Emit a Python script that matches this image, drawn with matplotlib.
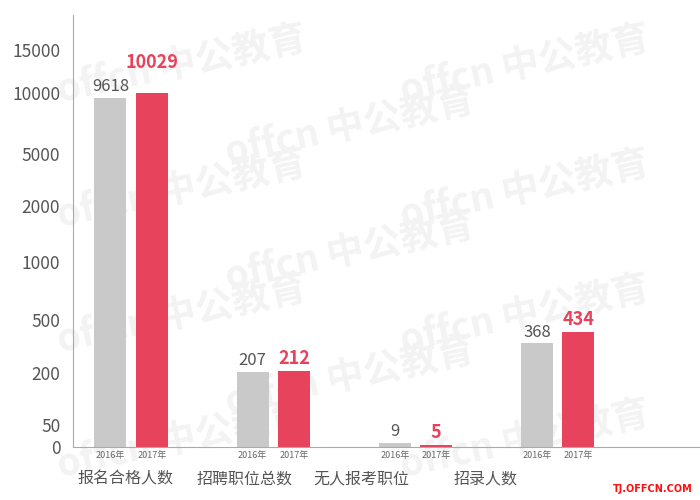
import numpy as np
import matplotlib
matplotlib.use('Agg')
import matplotlib.pyplot as plt

plt.rcParams['font.family'] = ['Noto Sans CJK SC', 'DejaVu Sans']

categories = ['报名合格人数', '招聘职位总数', '无人报考职位', '招录人数']
years = ['2016年', '2017年']
values_2016 = [9618, 207, 9, 368]
values_2017 = [10029, 212, 5, 434]
yticks = [0, 50, 200, 500, 1000, 2000, 5000, 10000, 15000]

GRAY = '#c9c9c9'
RED = '#e8435d'
TXT = '#555555'

# the y axis of the original is not linear: piecewise map tick value -> height
knot_v = [0, 50, 200, 500, 1000, 2000, 5000, 10000, 15000, 20000]
knot_u = [0, 22, 74, 127, 185, 241, 293, 354, 397, 440]


def fwd(v):
    return np.interp(v, knot_v, knot_u)


def inv(u):
    return np.interp(u, knot_u, knot_v)


def watermark(fig):
    # faint "offcn 中公教育" tiles behind the chart, kept inside the frame
    for row in range(7):
        y = 0.87 - row * 0.125
        xs = [0.26, 0.75] if row % 2 == 0 else [0.50]
        for x in xs:
            fig.text(x, y, 'offcn 中公教育', fontsize=27, fontweight='bold',
                     color='#f3f3f3', rotation=12, rotation_mode='anchor',
                     ha='center', va='center', zorder=0)


def main():
    fig = plt.figure(figsize=(7, 5), dpi=100)
    watermark(fig)
    ax = fig.add_axes([0.104, 0.106, 0.896, 0.864])
    ax.set_zorder(1)
    ax.set_facecolor('none')
    ax.set_yscale('function', functions=(fwd, inv))

    x = np.arange(len(categories))
    off, w = 0.145, 0.225
    b16 = ax.bar(x - off, values_2016, w, color=GRAY, zorder=2)
    b17 = ax.bar(x + off, values_2017, w, color=RED, zorder=2)

    t16, t17 = [], []
    for rect, v in zip(b16, values_2016):
        t16.append(ax.annotate(str(v), (rect.get_x() + rect.get_width() / 2, v),
                               xytext=(0, 2), textcoords='offset points',
                               ha='center', va='bottom', fontsize=12,
                               color=TXT))
    for rect, v in zip(b17, values_2017):
        t17.append(ax.annotate(str(v), (rect.get_x() + rect.get_width() / 2, v),
                               xytext=(0, 2), textcoords='offset points',
                               ha='center', va='bottom', fontsize=13,
                               color=RED, fontweight='bold'))

    ax.set_xlim(-0.41, 4.0)
    ax.set_ylim(0, 19070)
    ax.set_yticks(yticks)
    ax.set_yticklabels([str(t) for t in yticks])
    ax.tick_params(axis='y', length=0, pad=9, labelsize=12.5, labelcolor=TXT)

    # year labels under each bar, category names further down
    ax.set_xticks(np.concatenate([x - off, x + off]), minor=True)
    ax.set_xticklabels([years[0]] * 4 + [years[1]] * 4, minor=True)
    label_pos = [-0.04, 0.80, 1.62, 2.49]
    ax.set_xticks(label_pos)
    ax.set_xticklabels(categories)
    ax.tick_params(axis='x', which='minor', length=0, pad=3,
                   labelsize=6.5, labelcolor='#666666')
    ax.tick_params(axis='x', which='major', length=0, pad=17,
                   labelsize=11.5, labelcolor=TXT)

    for s in ['top', 'right']:
        ax.spines[s].set_visible(False)
    for s in ['left', 'bottom']:
        ax.spines[s].set_color('#aaaaaa')
        ax.spines[s].set_linewidth(0.8)

    fig.text(0.99, 0.012, 'TJ.OFFCN.COM', color='#ff1010', fontsize=7,
             fontweight='bold', ha='right', va='bottom',
             family=['DejaVu Sans'], zorder=3)

    # lift a 2017 label when it would run into its 2016 neighbour
    fig.canvas.draw()
    for a, b in zip(t16, t17):
        ba, bb = a.get_window_extent(), b.get_window_extent()
        if ba.overlaps(bb):
            lift = (ba.y1 - bb.y0) * 72 / fig.dpi + 4
            b.xyann = (0, 2 + lift)

    fig.savefig('out.png', dpi=100)


if __name__ == '__main__':
    main()
